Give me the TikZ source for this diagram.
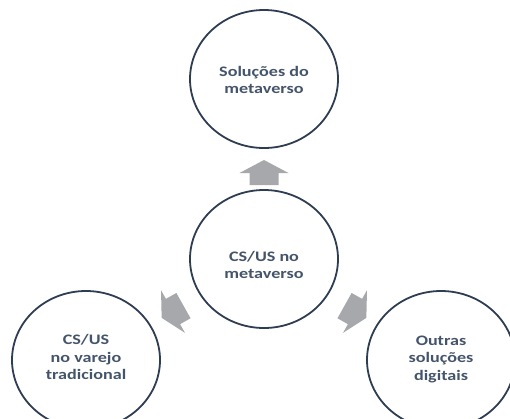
\documentclass[tikz,border=0pt]{standalone}
\usepackage{fontspec}
\setmainfont{Carlito}
\newfontfamily\lblfont[FakeStretch=1.25]{Carlito}
\usetikzlibrary{shapes.geometric}
\definecolor{ringcol}{HTML}{2F3D52}
\definecolor{textcol}{HTML}{44546A}
\definecolor{arrowcol}{RGB}{166,168,172}
\begin{document}
\begin{tikzpicture}[x=1pt,y=-1pt,
  ring/.style={ellipse, draw=ringcol, line width=1.8pt, fill=white,
    minimum width=148pt, minimum height=138pt, inner sep=0pt},
  caption/.style={align=center, text=textcol, inner sep=0pt,
    font=\lblfont\bfseries\fontsize{14.5pt}{17.5pt}\selectfont},
  blockarrow/.style={fill=arrowcol, draw=none}]
\useasboundingbox (0,0) rectangle (510,418);

% the four circles
\node[ring] (top)    at (264,79)  {};
\node[ring] (centre) at (264,259) {};
\node[ring] (left)   at (86,360)  {};
\node[ring] (right)  at (441,360) {};

% their captions
\node[caption] (topText)    at (264,80)  {Soluções do\\metaverso};
\node[caption] (centreText) at (264,265) {CS/US no\\metaverso};
\node[caption] (leftText)   at (86,357)  {CS/US\\no varejo\\tradicional};
\node[caption] (rightText)  at (441,359) {Outras\\soluções\\digitais};

% block arrows pointing away from the centre circle
\foreach \name/\px/\py/\ang in {upA/264/173/90, leftA/173/311.5/209.3, rightA/355/311.5/-29.3}{
  \begin{scope}[shift={(\px,\py)}, rotate=\ang]
    \fill[blockarrow] (13,0) -- (0,24.5) -- (0,14.5) -- (-12,14.5)
      -- (-12,-14.5) -- (0,-14.5) -- (0,-24.5) -- cycle;
    \coordinate (\name) at (0,0);
  \end{scope}
}
\end{tikzpicture}
\end{document}
